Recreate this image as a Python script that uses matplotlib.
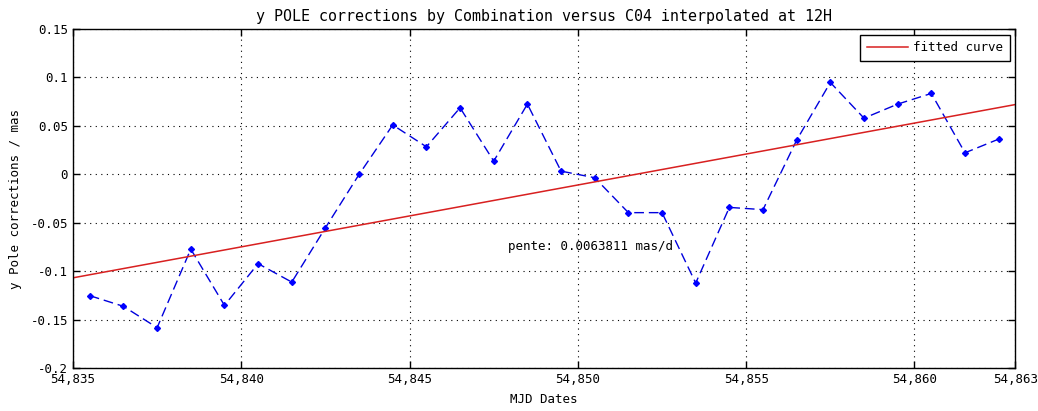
import matplotlib
matplotlib.use("Agg")
import matplotlib.pyplot as plt
from matplotlib.ticker import FuncFormatter
import numpy as np

plt.rcParams['font.family'] = ['DejaVu Sans Mono']
plt.rcParams['font.size'] = 9

# MJD dates (12H) and y pole corrections (mas)
mjd = [54835.5 + i for i in range(28)]
ycorr = [-0.125, -0.136, -0.158, -0.077, -0.135, -0.092, -0.111, -0.055,
         0.000, 0.051, 0.0285, 0.0687, 0.0137, 0.0725, 0.0034, -0.0034,
         -0.0394, -0.0394, -0.112, -0.034, -0.0363, 0.0354, 0.0948, 0.058,
         0.0725, 0.0835, 0.0223, 0.0364]

# fitted line
fit_slope = 0.0063811
fit_x0 = 54835
fit_y0 = -0.1066
fit_x = [54835, 54863]

xticks = [54835, 54840, 54845, 54850, 54855, 54860, 54863]
yticks = [-0.2, -0.15, -0.1, -0.05, 0, 0.05, 0.1, 0.15]

fig = plt.figure(figsize=(10.38, 4.11), dpi=100)
ax = fig.add_axes([0.0703, 0.1036, 0.908, 0.826])

ax.plot(mjd, ycorr, color='#0000dd', linestyle=(0, (7, 3.5)), linewidth=1,
        marker='D', markersize=3, markerfacecolor='#0000ff', markeredgecolor='#0000ff')
fy = [fit_y0 + fit_slope * (x - fit_x0) for x in fit_x]
ax.plot(fit_x, fy, color='#d82020', linewidth=1.1, label='fitted curve')

ax.text(54847.93, -0.074, 'pente: 0.0063811 mas/d', va='center', ha='left')

ax.set_xlim(54835, 54863)
ax.set_ylim(-0.2, 0.15)
ax.set_xticks(xticks)
ax.set_yticks(yticks)
ax.xaxis.set_major_formatter(FuncFormatter(lambda v, p: '{:,}'.format(int(round(v)))))
ax.set_yticklabels(['-0.2', '-0.15', '-0.1', '-0.05', '0', '0.05', '0.1', '0.15'])
ax.tick_params(direction='in', top=True, right=True, length=5, width=1)
ax.grid(True, color='black', linestyle=(0, (1, 4)), linewidth=0.8)
for s in ax.spines.values():
    s.set_linewidth(1)

ax.set_title('y POLE corrections by Combination versus C04 interpolated at 12H', pad=6)
ax.set_xlabel('MJD Dates', labelpad=5)
ax.set_ylabel('y Pole corrections / mas', labelpad=6)

leg = ax.legend(loc='upper right', fancybox=False, framealpha=1, edgecolor='black',
                borderpad=0.55, handlelength=3.3, handletextpad=0.4, borderaxespad=0.45)
leg.get_frame().set_linewidth(1)

fig.savefig('out.png', dpi=100)
